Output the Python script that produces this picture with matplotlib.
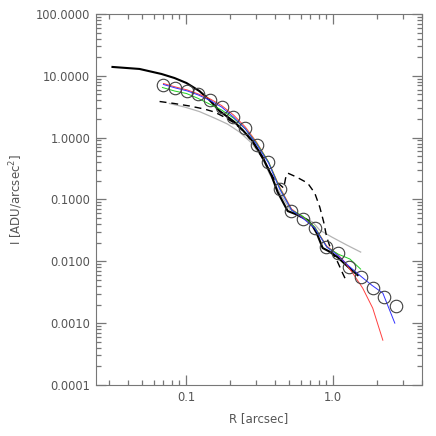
import numpy as np
import matplotlib.pyplot as plt
from matplotlib.ticker import FixedLocator, NullFormatter

# observed profile (circles)
r_obs = [0.0700, 0.0840, 0.1008, 0.121, 0.145, 0.174, 0.209, 0.251, 0.301, 0.361,
         0.433, 0.520, 0.624, 0.749, 0.899, 1.08, 1.29, 1.55, 1.86, 2.23, 2.68]
i_obs = [7.07, 6.25, 5.71, 5.00, 4.04, 3.17, 2.14, 1.41, 0.768, 0.399,
         0.146, 0.0641, 0.0485, 0.0340, 0.0168, 0.0134, 0.00814, 0.00561,
         0.00376, 0.00269, 0.00187]

# thick black model
r_black = [0.0315, 0.0481, 0.0679, 0.0832, 0.1005, 0.123, 0.144, 0.169, 0.213, 0.242,
           0.283, 0.331, 0.382, 0.419, 0.491, 0.556, 0.671, 0.726, 0.773, 0.849,
           0.933, 1.07, 1.26, 1.47]
i_black = [13.9, 12.9, 10.7, 9.21, 7.64, 5.67, 4.06, 2.69, 1.79, 1.33,
           0.881, 0.485, 0.239, 0.132, 0.0649, 0.058, 0.0464, 0.0371, 0.0286, 0.0164,
           0.0146, 0.0117, 0.0082, 0.00598]

# red model
r_red = [0.0700, 0.0846, 0.102, 0.121, 0.146, 0.174, 0.210, 0.253, 0.301, 0.364,
         0.433, 0.522, 0.621, 0.750, 0.906, 1.07, 1.20, 1.36, 1.59, 1.86, 2.18]
i_red = [7.50, 6.59, 5.89, 5.08, 4.21, 3.31, 2.32, 1.48, 0.849, 0.403,
         0.159, 0.070, 0.0519, 0.0357, 0.0176, 0.0131, 0.0097, 0.00644, 0.00368,
         0.00175, 0.00053]

# blue model
r_blue = [0.0700, 0.0846, 0.102, 0.121, 0.146, 0.174, 0.210, 0.253, 0.301, 0.364,
          0.433, 0.522, 0.621, 0.750, 0.906, 1.07, 1.28, 1.54, 1.83, 2.18, 2.63]
i_blue = [7.23, 6.35, 5.68, 4.89, 3.98, 3.13, 2.15, 1.38, 0.787, 0.388,
          0.147, 0.0673, 0.0500, 0.0344, 0.0170, 0.0126, 0.00836, 0.00576, 0.00412,
          0.00306, 0.00100]

# green model
r_green = [0.0689, 0.0832, 0.1005, 0.119, 0.144, 0.174, 0.210, 0.253, 0.301, 0.364,
           0.433, 0.522, 0.621, 0.750, 0.906, 1.08, 1.30, 1.54]
i_green = [6.47, 5.68, 5.17, 4.37, 3.50, 2.80, 2.07, 1.38, 0.818, 0.403,
           0.153, 0.0673, 0.0538, 0.0357, 0.0170, 0.0131, 0.0109, 0.00748]

# grey model
r_grey = [0.0769, 0.0973, 0.123, 0.156, 0.191, 0.231, 0.279, 0.326, 0.370, 0.419,
          0.506, 0.621, 0.726, 0.811, 0.979, 1.24, 1.54]
i_grey = [3.56, 3.13, 2.64, 2.07, 1.66, 1.23, 0.818, 0.485, 0.258, 0.147,
          0.070, 0.0519, 0.043, 0.032, 0.0247, 0.0183, 0.0141]

# dashed model
r_dash = [0.0659, 0.0832, 0.1053, 0.133, 0.156, 0.182, 0.213, 0.249, 0.292, 0.342,
          0.400, 0.461, 0.475, 0.491, 0.565, 0.671, 0.750, 0.811, 0.863, 0.904,
          0.979, 1.074, 1.16, 1.24]
i_dash = [3.84, 3.56, 3.25, 2.90, 2.59, 2.15, 1.72, 1.23, 0.758, 0.403,
          0.206, 0.153, 0.222, 0.267, 0.230, 0.184, 0.127, 0.0754, 0.0431, 0.0247,
          0.0141, 0.0097, 0.00644, 0.0046]

ytick_vals = [1e-4, 1e-3, 1e-2, 1e-1, 1, 10, 100]
ytick_labels = ['0.0001', '0.0010', '0.0100', '0.1000', '1.0000', '10.0000', '100.0000']
xtick_vals = [0.1, 1.0]
xtick_labels = ['0.1', '1.0']

txt = '#555555'
fig = plt.figure(figsize=(4.36, 4.36), dpi=100)
ax = fig.add_axes([0.220, 0.117, 0.748, 0.851])

ax.plot(r_grey, i_grey, color='#b4b4b4', lw=0.9)
ax.plot(r_dash, i_dash, color='black', lw=1.0, ls=(0, (5, 3.5)))
ax.plot(r_black, i_black, color='black', lw=1.5)
ax.plot(r_red, i_red, color='#ff4040', lw=0.7)
ax.plot(r_green, i_green, color='#20d020', lw=0.7)
ax.plot(r_blue, i_blue, color='#3030ff', lw=0.7)
ax.plot(r_obs, i_obs, 'o', mfc='none', mec='#404040', mew=0.8, ms=9)

ax.set_xscale('log')
ax.set_yscale('log')
ax.set_xlim(0.0243, 4.03)
ax.set_ylim(1e-4, 100)

# minor ticks at 2..9 of every decade
decades = 10.0 ** np.arange(-5, 3)
minor = np.array([d * k for d in decades for k in range(2, 10)])

ax.xaxis.set_major_locator(FixedLocator(xtick_vals))
ax.set_xticklabels(xtick_labels)
ax.yaxis.set_major_locator(FixedLocator(ytick_vals))
ax.set_yticklabels(ytick_labels)
ax.xaxis.set_minor_locator(FixedLocator(minor[(minor > 0.0243) & (minor < 4.03)]))
ax.yaxis.set_minor_locator(FixedLocator(minor[(minor > 1e-4) & (minor < 100)]))
ax.xaxis.set_minor_formatter(NullFormatter())
ax.yaxis.set_minor_formatter(NullFormatter())

ax.tick_params(which='both', direction='in', top=True, right=True,
               colors='#777777', labelcolor=txt, labelsize=8.3, width=0.9)
ax.tick_params(which='major', length=7, pad=4)
ax.tick_params(which='minor', length=3.5)
for s in ax.spines.values():
    s.set_color('#777777')
    s.set_linewidth(0.8)

ax.set_xlabel('R [arcsec]', color=txt, fontsize=8.5, labelpad=6)
ax.set_ylabel('I [ADU/arcsec$^2$]', color=txt, fontsize=8.5, labelpad=8)

fig.savefig('out.png', dpi=100)
